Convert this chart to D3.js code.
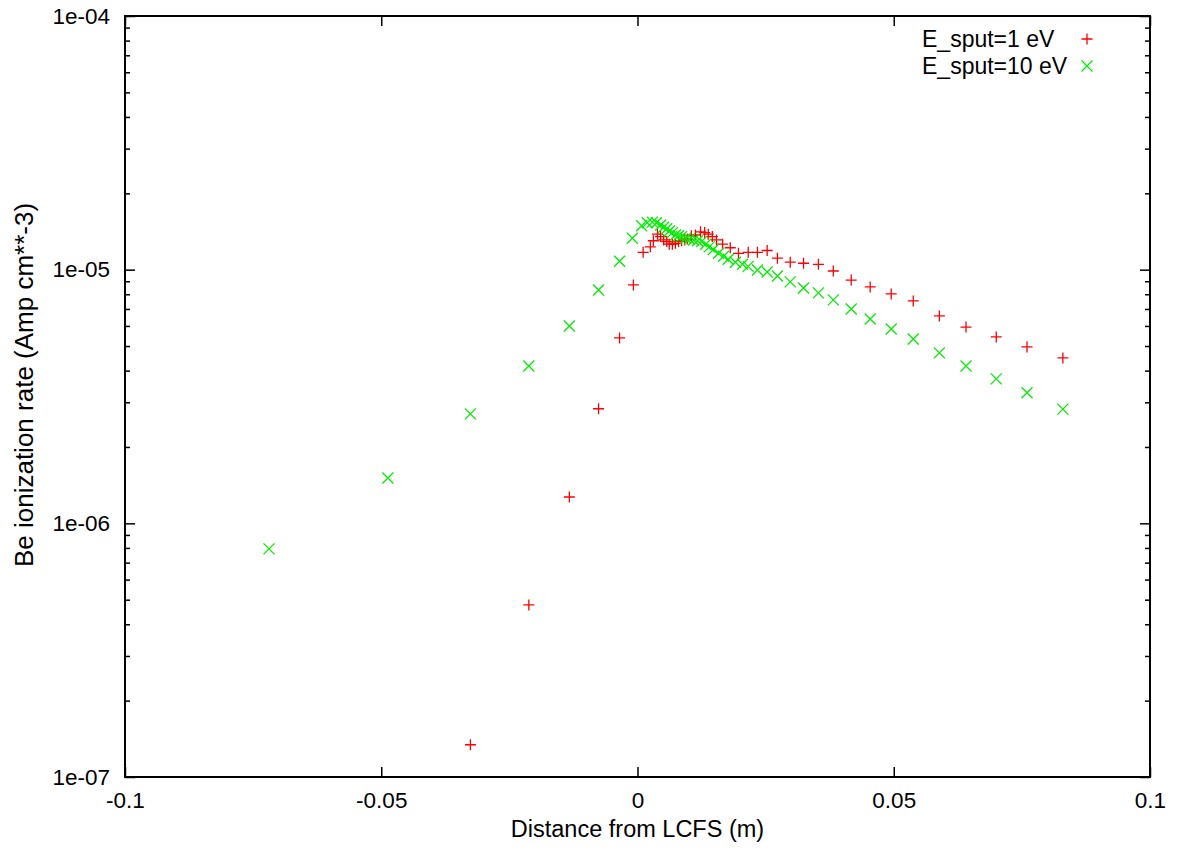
<!DOCTYPE html>
<html><head><meta charset="utf-8">
<script src="https://cdn.jsdelivr.net/npm/d3@7"></script>
<style>
body{margin:0;background:#fff;}
text{font-family:"Liberation Sans",Arial,Helvetica,sans-serif;fill:#000;}
</style></head>
<body>
<svg id="chart" width="1180" height="852"></svg>
<script>
// ---- data ----
const xTickValues = [-0.1, -0.05, 0, 0.05, 0.1];
const xTickLabels = ["-0.1", "-0.05", "0", "0.05", "0.1"];
const yTickValues = [1e-7, 1e-6, 1e-5, 1e-4];
const yTickLabels = ["1e-07", "1e-06", "1e-05", "1e-04"];
const seriesNames = ["E_sput=1 eV", "E_sput=10 eV"];

const x1 = [-0.0326,-0.0212,-0.0133,-0.0076,-0.0035,-0.0008,0.0011,0.0025,0.0031,0.0039,0.0045,0.0051,0.0057,0.0062,0.0068,0.0074,0.0080,0.0086,0.0092,0.0097,0.0105,0.0113,0.0123,0.0131,0.0138,0.0146,0.0154,0.0166,0.0181,0.0197,0.0216,0.0234,0.0253,0.0273,0.0298,0.0324,0.0353,0.0382,0.0417,0.0454,0.0495,0.0538,0.0589,0.0641,0.0700,0.0760,0.0830];
const y1 = [1.34e-7,4.77e-7,1.27e-6,2.83e-6,5.38e-6,8.71e-6,1.17e-5,1.23e-5,1.30e-5,1.38e-5,1.35e-5,1.31e-5,1.29e-5,1.26e-5,1.26e-5,1.27e-5,1.29e-5,1.30e-5,1.31e-5,1.32e-5,1.36e-5,1.37e-5,1.41e-5,1.40e-5,1.38e-5,1.35e-5,1.31e-5,1.26e-5,1.22e-5,1.16e-5,1.17e-5,1.17e-5,1.19e-5,1.11e-5,1.07e-5,1.06e-5,1.05e-5,9.88e-6,9.10e-6,8.55e-6,8.02e-6,7.53e-6,6.57e-6,5.94e-6,5.43e-6,4.96e-6,4.49e-6];

const x2 = [-0.0719,-0.0487,-0.0326,-0.0212,-0.0133,-0.0076,-0.0035,-0.0010,0.0008,0.0019,0.0029,0.0037,0.0045,0.0051,0.0057,0.0062,0.0068,0.0074,0.0080,0.0086,0.0094,0.0101,0.0109,0.0117,0.0125,0.0133,0.0140,0.0148,0.0158,0.0168,0.0177,0.0191,0.0205,0.0216,0.0234,0.0253,0.0273,0.0298,0.0324,0.0353,0.0382,0.0417,0.0454,0.0495,0.0538,0.0589,0.0641,0.0700,0.0760,0.0830];
const y2 = [7.93e-7,1.51e-6,2.70e-6,4.17e-6,6.00e-6,8.32e-6,1.08e-5,1.33e-5,1.49e-5,1.53e-5,1.54e-5,1.53e-5,1.50e-5,1.47e-5,1.45e-5,1.42e-5,1.40e-5,1.37e-5,1.36e-5,1.35e-5,1.33e-5,1.32e-5,1.31e-5,1.30e-5,1.29e-5,1.26e-5,1.23e-5,1.20e-5,1.16e-5,1.13e-5,1.10e-5,1.07e-5,1.05e-5,1.03e-5,9.97e-6,9.79e-6,9.44e-6,8.95e-6,8.47e-6,8.10e-6,7.60e-6,7.00e-6,6.39e-6,5.84e-6,5.33e-6,4.70e-6,4.17e-6,3.71e-6,3.27e-6,2.82e-6];

// ---- layout ----
const L = 125, R = 1150, T = 16, B = 777;
const svg = d3.select("#chart");
const x = d3.scaleLinear().domain([-0.1, 0.1]).range([L, R]);
const y = d3.scaleLog().domain([1e-7, 1e-4]).range([B, T]);

const minorVals = [];
for (let e = -7; e < -4; e++) for (let m = 2; m <= 9; m++) minorVals.push(m * Math.pow(10, e));

function clean(g){ g.select(".domain").remove(); g.selectAll(".tick line").attr("stroke","#000").attr("stroke-width",1.5); }
const tickFont = g=>g.selectAll(".tick text").attr("font-size",22.5)
  .attr("font-family","Liberation Sans, Arial, sans-serif").attr("fill","#000");

// left axis
svg.append("g").attr("transform",`translate(${L},0)`)
  .call(d3.axisLeft(y).tickValues(yTickValues).tickSize(-10).tickPadding(15)
        .tickFormat((d,i)=>yTickLabels[i]))
  .call(clean).call(tickFont);
svg.append("g").attr("transform",`translate(${L},0)`)
  .call(d3.axisLeft(y).tickValues(minorVals).tickSize(-5).tickFormat(""))
  .call(clean);
// right axis
svg.append("g").attr("transform",`translate(${R},0)`)
  .call(d3.axisRight(y).tickValues(yTickValues).tickSize(-10).tickFormat(""))
  .call(clean);
svg.append("g").attr("transform",`translate(${R},0)`)
  .call(d3.axisRight(y).tickValues(minorVals).tickSize(-5).tickFormat(""))
  .call(clean);
// bottom axis
svg.append("g").attr("transform",`translate(0,${B})`)
  .call(d3.axisBottom(x).tickValues(xTickValues).tickSize(-10).tickPadding(15)
        .tickFormat((d,i)=>xTickLabels[i]))
  .call(clean).call(tickFont);
// top axis
svg.append("g").attr("transform",`translate(0,${T})`)
  .call(d3.axisTop(x).tickValues(xTickValues).tickSize(-10).tickFormat(""))
  .call(clean);

// frame
svg.append("rect").attr("x",L).attr("y",T).attr("width",R-L).attr("height",B-T)
  .attr("fill","none").attr("stroke","#000").attr("stroke-width",2);

// axis titles
svg.append("text").attr("x",(L+R)/2).attr("y",837).attr("text-anchor","middle")
  .attr("font-size",23.5).text("Distance from LCFS (m)");
svg.append("text").attr("transform",`translate(33,385) rotate(-90)`)
  .attr("text-anchor","middle").attr("font-size",26).text("Be ionization rate (Amp cm**-3)");

// markers
const plusPath = "M-5.5,0H5.5M0,-5.5V5.5";
const crossPath = "M-5.5,-5.5L5.5,5.5M-5.5,5.5L5.5,-5.5";
const d1 = x1.map((v,i)=>({x:v,y:y1[i]}));
const d2 = x2.map((v,i)=>({x:v,y:y2[i]}));
svg.append("g").selectAll("path").data(d1).join("path")
  .attr("d",plusPath).attr("transform",d=>`translate(${x(d.x)},${y(d.y)})`)
  .attr("stroke","#ff0000").attr("stroke-width",1.3).attr("fill","none");
svg.append("g").selectAll("path").data(d2).join("path")
  .attr("d",crossPath).attr("transform",d=>`translate(${x(d.x)},${y(d.y)})`)
  .attr("stroke","#00ee00").attr("stroke-width",1.3).attr("fill","none");

// legend
const legend = svg.append("g");
[0,1].forEach(i=>{
  const cy = 39 + i*27;
  legend.append("text").attr("x",922).attr("y",cy+8).attr("font-size",23).text(seriesNames[i]);
  legend.append("path").attr("d", i===0?plusPath:crossPath)
    .attr("transform",`translate(1087,${cy})`)
    .attr("stroke", i===0?"#ff0000":"#00ee00").attr("stroke-width",1.3).attr("fill","none");
});
</script>
</body></html>
